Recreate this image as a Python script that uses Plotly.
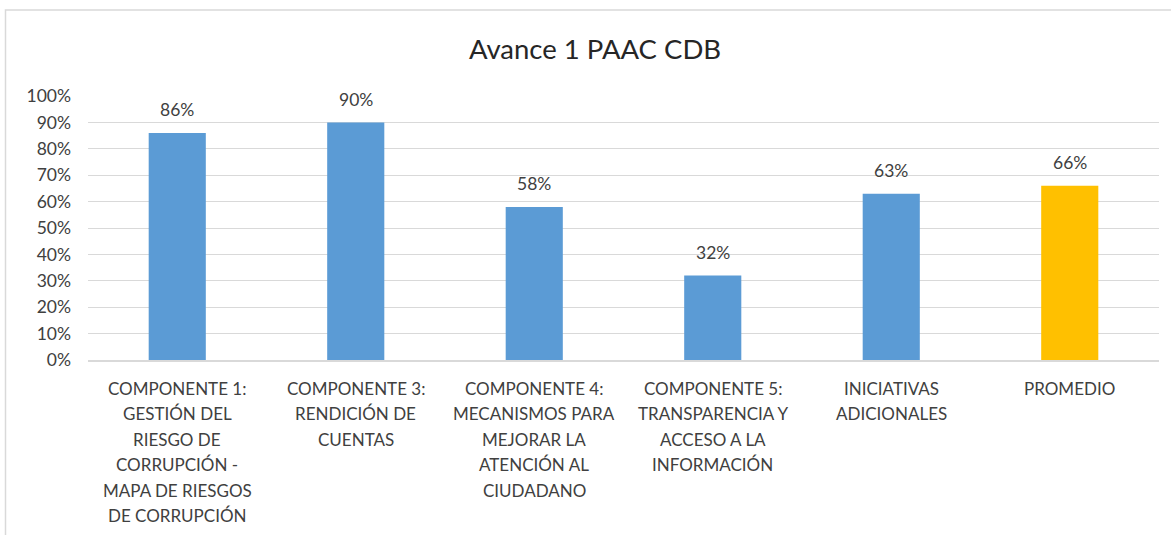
import plotly.graph_objects as go

categories = ["C1", "C3", "C4", "C5", "INI", "PROM"]
category_lines = [
    ["COMPONENTE 1:", "GESTIÓN DEL", "RIESGO DE", "CORRUPCIÓN -", "MAPA DE RIESGOS", "DE CORRUPCIÓN"],
    ["COMPONENTE 3:", "RENDICIÓN DE", "CUENTAS"],
    ["COMPONENTE 4:", "MECANISMOS PARA", "MEJORAR LA", "ATENCIÓN AL", "CIUDADANO"],
    ["COMPONENTE 5:", "TRANSPARENCIA Y", "ACCESO A LA", "INFORMACIÓN"],
    ["INICIATIVAS", "ADICIONALES"],
    ["PROMEDIO"],
]
values = [0.86, 0.90, 0.58, 0.32, 0.63, 0.66]
bar_colors = ["#5B9BD5", "#5B9BD5", "#5B9BD5", "#5B9BD5", "#5B9BD5", "#FFC000"]
title_text = "Avance 1 PAAC CDB"

FONT = "Lato, 'Open Sans', sans-serif"
TXT = "#404040"

fig = go.Figure(go.Bar(
    x=categories, y=values,
    marker=dict(color=bar_colors, line=dict(width=0)),
    hoverinfo="skip",
))

annotations = []
# data labels
for cat, v in zip(categories, values):
    annotations.append(dict(
        x=cat, xref="x", y=v, yref="y", text=f"{round(v*100)}%", showarrow=False,
        yanchor="middle", xanchor="center", yshift=23,
        font=dict(family=FONT, size=17.5, color=TXT),
    ))
# category labels
for cat, lines in zip(categories, category_lines):
    for i, line in enumerate(lines):
        annotations.append(dict(
            x=cat, xref="x", y=0, yref="paper", text=line, showarrow=False,
            yanchor="middle", xanchor="center", yshift=-(28 + i * 25.5),
            font=dict(family=FONT, size=17, color=TXT),
        ))

L, R, T, B = 88, 12, 96, 175
pw = 1171 - L - R
ph = 535 - T - B

fig.update_layout(
    width=1171, height=535,
    margin=dict(l=L, r=R, t=T, b=B),
    paper_bgcolor="white", plot_bgcolor="white",
    bargap=0.68,
    showlegend=False,
    title=dict(text=title_text, x=595 / 1171, xanchor="center", xref="container",
               y=1 - 49 / 535, yref="container", yanchor="middle",
               font=dict(family=FONT, size=27.5, color="#262626")),
    annotations=annotations,
    shapes=[dict(
        type="rect", xref="paper", yref="paper",
        x0=(5.5 - L) / pw, x1=(1250 - L) / pw,
        y0=-(650 - T - ph) / ph, y1=1 + (T - 10) / ph,
        line=dict(color="#D9D9D9", width=1.5), fillcolor="rgba(0,0,0,0)", layer="below",
    )],
    xaxis=dict(showticklabels=False, showgrid=False, showline=True,
               linecolor="#D9D9D9", linewidth=1.5, ticks="", fixedrange=True),
    yaxis=dict(range=[0, 1], dtick=0.1, tickformat=".0%", showgrid=True,
               gridcolor="#D9D9D9", gridwidth=1.2, zeroline=False, showline=False,
               ticks="", ticklabelstandoff=16,
               tickfont=dict(family=FONT, size=17.5, color=TXT)),
)

fig.write_html("out.html", config={"displayModeBar": False},
               post_script="document.body.style.margin='0';document.body.style.overflow='hidden';")
